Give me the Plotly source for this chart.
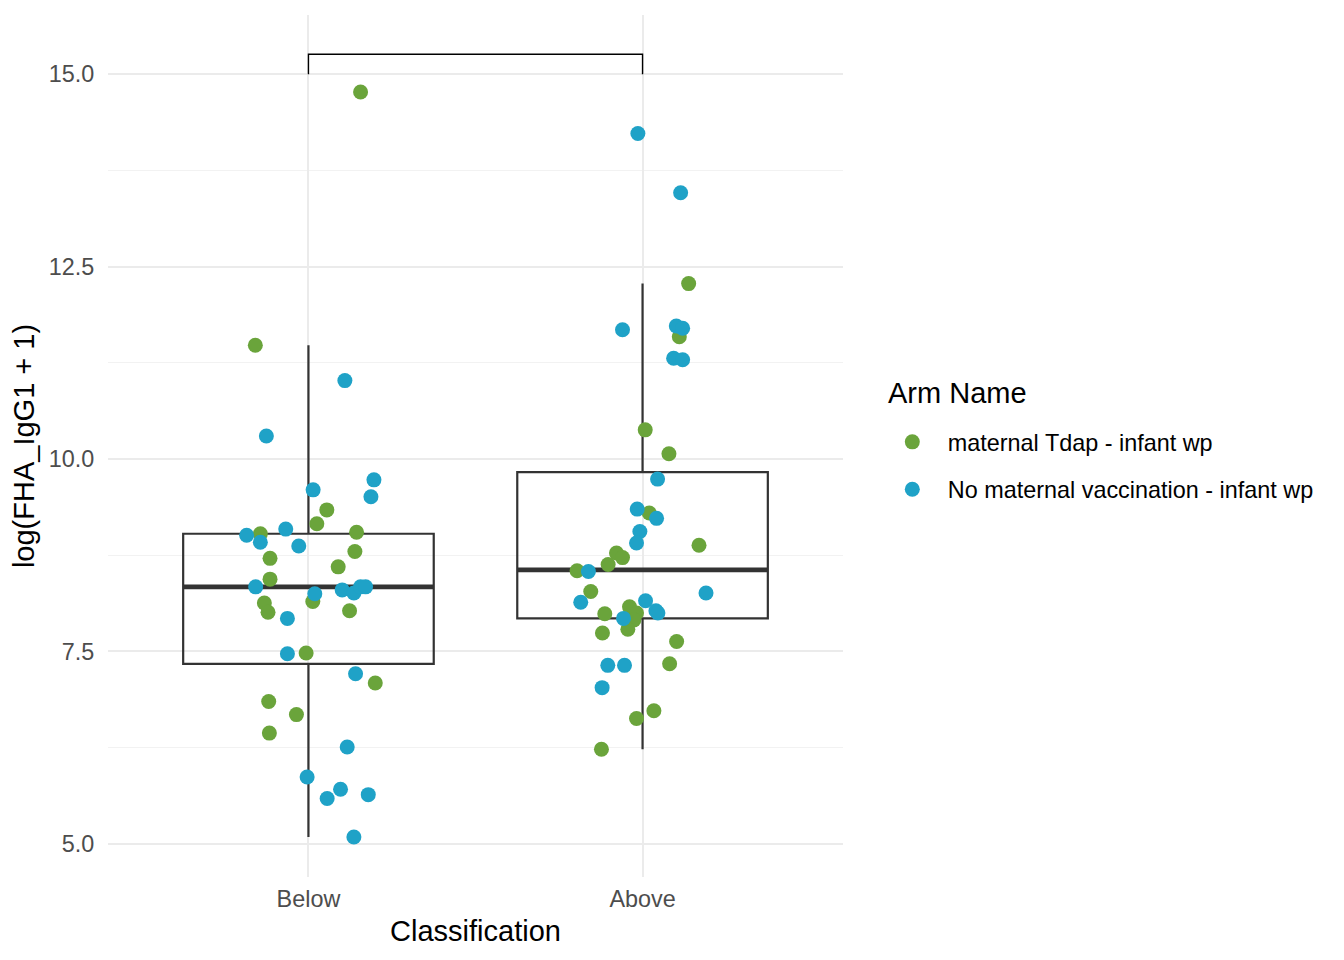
"""Boxplot of log(FHA_IgG1 + 1) by classification with jittered points per arm."""

import plotly.graph_objects as go

# categories on the x axis (numeric positions 1, 2)
categories = ["Below", "Above"]
cat_pos = [1, 2]

# box statistics (whiskers = 1.5 IQR fences)
box_q1 = [7.34, 7.93]
box_median = [8.34, 8.56]
box_q3 = [9.03, 9.83]
box_low = [5.09, 6.23]
box_high = [11.48, 12.28]

# jittered points: x (jittered position), y
tdap_x = [0.841, 1.055, 1.025, 1.144, 0.856, 1.139, 0.885, 1.089, 0.885, 1.013,
          0.868, 0.879, 1.123, 0.993, 1.200, 0.881, 0.964, 0.883, 1.156,
          2.138, 2.110, 2.008, 2.079, 2.020, 2.169, 1.922, 1.940, 1.897, 1.804,
          1.845, 1.961, 1.982, 1.887, 1.974, 1.956, 1.880, 2.102, 2.081, 2.034,
          1.982, 1.877]
tdap_y = [11.48, 9.34, 9.16, 9.05, 9.03, 8.80, 8.71, 8.60, 8.44, 8.15,
          8.13, 8.01, 8.03, 7.48, 7.09, 6.85, 6.68, 6.44, 14.77,
          12.28, 11.59, 10.38, 10.07, 9.30, 8.88, 8.78, 8.72, 8.63, 8.55,
          8.28, 8.08, 8.00, 7.99, 7.91, 7.79, 7.74, 7.63, 7.34, 6.73,
          6.63, 6.23]

novac_x = [1.109, 0.874, 1.196, 1.187, 1.014, 0.932, 0.815, 0.856, 0.971, 0.842,
           1.019, 1.101, 1.136, 1.156, 1.171, 0.937, 0.937, 1.141, 1.116, 0.996,
           1.096, 1.056, 1.179, 1.136,
           1.986, 2.114, 1.940, 2.101, 2.120, 2.093, 2.120, 2.045, 1.984, 2.042,
           1.992, 1.982, 1.838, 2.190, 1.815, 2.009, 2.040, 2.046, 1.943, 1.896,
           1.946, 1.879]
novac_y = [11.02, 10.30, 9.73, 9.51, 9.60, 9.09, 9.01, 8.92, 8.87, 8.34,
           8.25, 8.30, 8.26, 8.34, 8.34, 7.93, 7.47, 7.21, 6.26, 5.87,
           5.71, 5.59, 5.64, 5.09,
           14.23, 13.46, 11.68, 11.73, 11.70, 11.31, 11.29, 9.74, 9.35, 9.23,
           9.06, 8.91, 8.54, 8.26, 8.14, 8.16, 8.03, 8.00, 7.93, 7.32,
           7.32, 7.03]

arm_names = ["maternal Tdap - infant wp", "No maternal vaccination - infant wp"]
arm_colors = ["#6AA43B", "#1FA2C7"]
legend_title = "Arm Name"

# significance bracket between the two groups
bracket_top = 15.26
bracket_tip = 15.0

BOX_WIDTH = 0.75
FONT = "Liberation Sans, Arial, sans-serif"
TICK_SIZE = 23.4
TITLE_SIZE = 29

fig = go.Figure()

for pos, q1, med, q3, lo, hi in zip(cat_pos, box_q1, box_median, box_q3, box_low, box_high):
    fig.add_trace(go.Box(
        x=[pos], q1=[q1], median=[med], q3=[q3], lowerfence=[lo], upperfence=[hi],
        width=BOX_WIDTH, whiskerwidth=0, fillcolor="rgba(0,0,0,0)",
        line={"color": "#333333", "width": 2.2}, showlegend=False, hoverinfo="skip",
    ))
    # ggplot draws the median thicker than the box outline
    fig.add_trace(go.Scatter(
        x=[pos - BOX_WIDTH / 2, pos + BOX_WIDTH / 2], y=[med, med], mode="lines",
        line={"color": "#333333", "width": 4.8}, showlegend=False, hoverinfo="skip",
    ))

for i, (xs, ys) in enumerate([(tdap_x, tdap_y), (novac_x, novac_y)]):
    fig.add_trace(go.Scatter(
        x=xs, y=ys, mode="markers", name=arm_names[i], legendgroup=f"g{i}",
        marker={"color": arm_colors[i], "size": 15},
    ))

fig.add_shape(
    type="path",
    path=f"M {cat_pos[0]},{bracket_tip} L {cat_pos[0]},{bracket_top} "
         f"L {cat_pos[1]},{bracket_top} L {cat_pos[1]},{bracket_tip}",
    xref="x", yref="y", line={"color": "black", "width": 1.4},
)

# legend title as a separate label so the gap to the keys matches ggplot
fig.add_annotation(
    text=legend_title, xref="paper", yref="paper", x=1.058, y=0.5615,
    xanchor="left", yanchor="middle", showarrow=False,
    font={"size": TITLE_SIZE, "color": "black", "family": FONT},
)

fig.update_xaxes(
    range=[0.4, 2.6], tickvals=cat_pos, ticktext=categories,
    showgrid=True, gridcolor="#EBEBEB", gridwidth=2, zeroline=False, showline=False,
    ticks="outside", ticklen=1, tickcolor="rgba(0,0,0,0)",
    tickfont={"size": TICK_SIZE, "color": "#4D4D4D", "family": FONT},
    title={"text": "Classification", "font": {"size": TITLE_SIZE, "color": "black", "family": FONT}, "standoff": 9},
)
fig.update_yaxes(
    range=[4.57, 15.77], tick0=5, dtick=2.5, tickformat=".1f",
    showgrid=True, gridcolor="#EBEBEB", gridwidth=2, zeroline=False, showline=False,
    minor={"dtick": 1.25, "tick0": 5, "showgrid": True, "gridcolor": "#F2F2F2", "gridwidth": 1.2},
    ticks="outside", ticklen=8, tickcolor="rgba(0,0,0,0)",
    tickfont={"size": TICK_SIZE, "color": "#4D4D4D", "family": FONT},
    title={"text": "log(FHA_IgG1 + 1)", "font": {"size": TITLE_SIZE, "color": "black", "family": FONT}, "standoff": 6},
)

fig.update_layout(
    width=1344, height=960,
    margin={"l": 100, "r": 509, "t": 7, "b": 91},
    plot_bgcolor="white", paper_bgcolor="white",
    font={"family": FONT},
    legend={
        "font": {"size": TICK_SIZE, "color": "black"},
        "x": 1.046, "xanchor": "left", "y": 0.53, "yanchor": "top",
        "tracegroupgap": 14, "itemwidth": 61,
    },
)

fig.write_html("out.html")
